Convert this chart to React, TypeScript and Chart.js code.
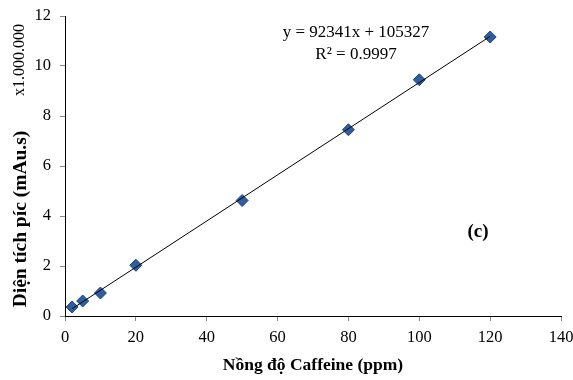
import React, { useEffect, useRef } from "react";
import { Chart, registerables } from "chart.js";

Chart.register(...registerables);

const concentrations = [2, 5, 10, 20, 50, 80, 100, 120];
const peakAreas = [0.36, 0.6, 0.92, 2.03, 4.62, 7.45, 9.45, 11.16]; // x1.000.000
const slope = 92341;
const intercept = 105327;
const trendX = [2, 120];
const xTicks = [0, 20, 40, 60, 80, 100, 120, 140];
const yTicks = [0, 2, 4, 6, 8, 10, 12];

const SERIF = "'Liberation Serif', 'Times New Roman', serif";

const textPlugin = {
  id: "texts",
  afterDraw(chart: any) {
    const ctx = chart.ctx;
    ctx.save();
    ctx.fillStyle = "#000";
    ctx.textBaseline = "middle";
    ctx.font = `17px ${SERIF}`;
    ctx.textAlign = "center";
    ctx.fillText("y = 92341x + 105327", 356, 33);
    ctx.fillText("R² = 0.9997", 356, 55);
    ctx.font = `bold 19px ${SERIF}`;
    ctx.fillText("(c)", 478, 232);
    ctx.font = `bold 17.5px ${SERIF}`;
    ctx.fillText("Nồng độ Caffeine (ppm)", 313, 365);
    ctx.translate(21, 0);
    ctx.rotate(-Math.PI / 2);
    ctx.textAlign = "center";
    ctx.font = `bold 19.5px ${SERIF}`;
    ctx.fillText("Diện tích píc (mAu.s)", -219, 0);
    ctx.font = `16px ${SERIF}`;
    ctx.fillText("x1.000.000", -60, -1);
    ctx.restore();
  },
};

export default function App() {
  const ref = useRef<HTMLCanvasElement>(null);
  useEffect(() => {
    if (!ref.current) return;
    const trend = trendX.map((x) => ({ x, y: (slope * x + intercept) / 1e6 }));
    const chart = new Chart(ref.current, {
      type: "scatter",
      data: {
        datasets: [
          {
            type: "line",
            data: trend,
            borderColor: "#000",
            borderWidth: 1,
            pointRadius: 0,
            fill: false,
          } as any,
          {
            data: concentrations.map((x, i) => ({ x, y: peakAreas[i] })),
            pointStyle: "rectRot",
            pointRadius: 6,
            backgroundColor: "#2D5E9E",
            borderColor: "#1F4478",
            borderWidth: 1,
          },
        ],
      },
      options: {
        animation: false,
        responsive: false,
        devicePixelRatio: 1,
        layout: { padding: { top: 16, right: 12, left: 0, bottom: 0 } },
        plugins: { legend: { display: false }, tooltip: { enabled: false } },
        scales: {
          x: {
            type: "linear",
            min: 0,
            max: 140,
            afterBuildTicks: (s: any) => {
              s.ticks = xTicks.map((v) => ({ value: v }));
            },
            afterFit: (s: any) => {
              s.height = 64;
              s.paddingLeft = 0;
              s.paddingRight = 0;
            },
            grid: { drawOnChartArea: false, drawTicks: true, tickLength: 5, color: "#888" },
            border: { display: true, color: "#000", width: 1 },
            ticks: { color: "#000", font: { family: SERIF, size: 16.5 }, padding: 7, maxRotation: 0 },
          },
          y: {
            type: "linear",
            min: 0,
            max: 12,
            afterBuildTicks: (s: any) => {
              s.ticks = yTicks.map((v) => ({ value: v }));
            },
            afterFit: (s: any) => {
              s.width = 65;
              s.paddingTop = 0;
              s.paddingBottom = 0;
            },
            grid: { drawOnChartArea: false, drawTicks: true, tickLength: 5, color: "#888" },
            border: { display: true, color: "#000", width: 1 },
            ticks: { color: "#000", font: { family: SERIF, size: 16.5 }, padding: 9 },
          },
        },
      },
      plugins: [textPlugin],
    });
    return () => chart.destroy();
  }, []);
  return (
    <div style={{ position: "fixed", left: 0, top: 0, width: 573, height: 380, background: "#fff" }}>
      <canvas ref={ref} width={573} height={380} />
    </div>
  );
}
